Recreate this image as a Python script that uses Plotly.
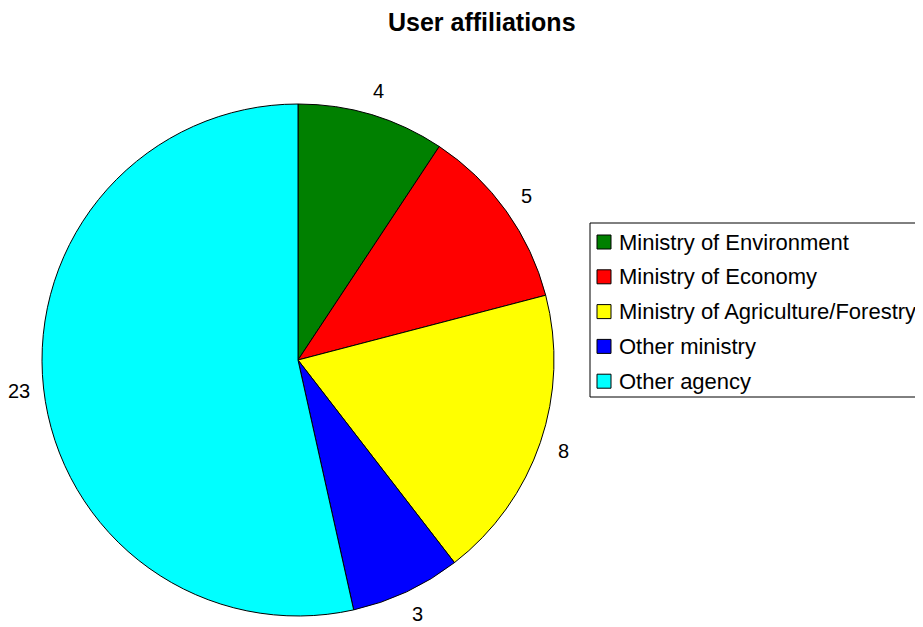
import math
import plotly.graph_objects as go

# ---- data ----
categories = ["Ministry of Environment", "Ministry of Economy",
              "Ministry of Agriculture/Forestry", "Other ministry", "Other agency"]
counts = [4, 5, 8, 3, 23]
colors = ["#008000", "#FF0000", "#FFFF00", "#0000FF", "#00FFFF"]
title_text = "User affiliations"

# ---- layout constants (window pixels; page body has an 8px margin) ----
OFF = 8
W, H = 923 - OFF, 627 - OFF
CX, CY, R = 298, 360, 256
LABEL_R = 281
FONT = "Liberation Sans, Arial, sans-serif"


def px(x):
    return (x - OFF) / W


def py(y):
    return 1 - (y - OFF) / H


fig = go.Figure()
fig.add_trace(go.Pie(
    labels=categories,
    values=counts,
    sort=False,
    direction="clockwise",
    rotation=0,
    marker=dict(colors=colors, line=dict(color="black", width=1)),
    textinfo="none",
    hoverinfo="label+value",
    showlegend=False,
    domain=dict(x=[px(CX - R), px(CX + R)], y=[py(CY + R), py(CY - R)]),
))

annotations = []
# value labels outside slices, positioned from the data's angles
total = sum(counts)
cum = 0
for v in counts:
    mid = (cum + v / 2) / total * 2 * math.pi
    cum += v
    x = CX + LABEL_R * math.sin(mid)
    y = CY - LABEL_R * math.cos(mid)
    annotations.append(dict(
        x=px(x), y=py(y), xref="paper", yref="paper",
        text=str(v), showarrow=False, xanchor="center", yanchor="middle",
        font=dict(family=FONT, size=20, color="black"),
    ))

# title
annotations.append(dict(
    x=px(482), y=py(22), xref="paper", yref="paper",
    text="<b>" + title_text + "</b>", showarrow=False,
    xanchor="center", yanchor="middle",
    font=dict(family=FONT, size=25, color="black"),
))

# legend (manual)
shapes = [dict(type="rect", xref="paper", yref="paper",
               x0=px(590), x1=px(940), y0=py(397), y1=py(223),
               line=dict(color="black", width=1), fillcolor="white", layer="below")]
row0, step = 242, 34.8
for i, (cat, col) in enumerate(zip(categories, colors)):
    yc = row0 + i * step
    shapes.append(dict(type="rect", xref="paper", yref="paper",
                       x0=px(597), x1=px(611), y0=py(yc + 7), y1=py(yc - 7),
                       line=dict(color="black", width=1), fillcolor=col))
    annotations.append(dict(
        x=px(617), y=py(yc), xref="paper", yref="paper",
        text=cat, showarrow=False, xanchor="left", yanchor="middle",
        font=dict(family=FONT, size=22, color="black"),
    ))

fig.update_layout(
    width=W, height=H,
    margin=dict(l=0, r=0, t=0, b=0),
    paper_bgcolor="white", plot_bgcolor="white",
    annotations=annotations, shapes=shapes,
    showlegend=False,
)

fig.write_html("out.html")
